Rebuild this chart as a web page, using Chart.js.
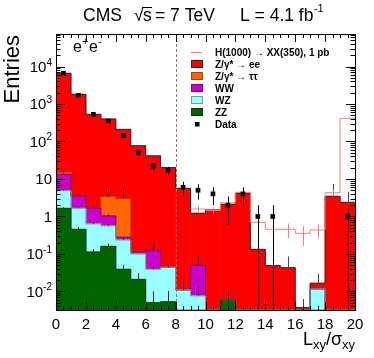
<!DOCTYPE html>
<html>
<head>
<meta charset="utf-8">
<script src="https://cdn.jsdelivr.net/npm/chart.js@4.4.0/dist/chart.umd.min.js"></script>
<style>
  html, body { margin: 0; padding: 0; background: #fff; }
</style>
</head>
<body>
<canvas id="chart" width="374" height="358"></canvas>
<script>
// bin centres of the Lxy/sigma histogram (bins of width 1)
const binCenters = [0.5, 1.5, 2.5, 3.5, 4.5, 5.5, 6.5, 7.5, 8.5, 9.5, 10.5, 11.5, 12.5, 13.5, 14.5, 15.5, 16.5, 17.5, 18.5, 19.5];
const binEdges = [0, 1, 2, 3, 4, 5, 6, 7, 8, 9, 10, 11, 12, 13, 14, 15, 16, 17, 18, 19, 20];

// stacked backgrounds, bottom to top
const zz      = [1.65, 0.455, 0.113, 0.16, 0.039, 0.021, 0.005, 0.0053, 0, 0, 0, 0.0059, 0, 0, 0, 0, 0, 0, 0, 0];
const wz      = [3.25, 1.2, 0.52, 0.40, 0.197, 0.079, 0.034, 0.039, 0.011, 0.0076, 0, 0, 0, 0, 0, 0, 0, 0.0117, 0, 0];
const ww      = [8.4, 1.85, 1.02, 0.47, 0.044, 0.013, 0.083, 0, 0, 0.042, 0, 0, 0, 0, 0, 0, 0, 0, 0, 0];
const ztautau = [1.8, 0, 0, 2.34, 2.7, 0, 0, 0, 0, 0, 0, 0, 0, 0, 0, 0, 0, 0, 0, 0];
const zee     = [6575, 1811, 529, 395, 208, 77, 41, 20, 5.64, 1.17, 1.49, 2.11, 4.16, 0.133, 0.049, 0.043, 0.0037, 0.0049, 3.46, 2.39];

// upward MC stat error ticks on each stack level
const zzErr      = [0.1, 0.06, 0.02, 0.03, 0.012, 0.0095, 0.005, 0.005, 0, 0, 0, 0.0056, 0, 0, 0, 0, 0, 0, 0, 0];
const wzErr      = [0.3, 0.15, 0.05, 0.05, 0.03, 0, 0.01, 0.01, 0.01, 0.007, 0, 0, 0, 0, 0, 0, 0, 0, 0, 0];
const wwErr      = [1, 0.4, 0.2, 0.1, 0, 0, 0.09, 0, 0, 0.04, 0, 0, 0, 0, 0, 0, 0, 0, 0, 0];
const ztautauErr = [0.8, 0, 0, 2.4, 2.66, 0, 0, 0, 0, 0, 0, 0, 0, 0, 0, 0, 0, 0, 0, 0];
const totalErr   = [0, 0, 0, 0, 0, 0, 0, 0, 0, 0, 0, 0, 0, 0, 0, 0.042, 0.0026, 0.013, 3.9, 2.2];

// signal H(1000) -> XX(350)
const signal    = [null, null, null, null, null, null, null, null, null, 1.58, 1.45, 2.3, 4.4, 0.7, 0.456, 0.456, 0.356, 0.437, 4.3, 415];
const signalErr = [null, null, null, null, null, null, null, null, null, 0.3, 0.3, 0.35, 0.5, 0.2, 0.19, 0.19, 0.19, 0.18, 0.8, 12];

// data
const dataCounts = [6600, 1700, 530, 350, 143, 50, 22, 17, 6, 5, 4, 2, 4, 1, 1, null, null, null, null, 1];
const dataErr    = [81, 41, 23, 19, 12, 7.1, 4.7, 4.1, 2.4, 2.2, 2, 1.4, 2, 1, 1, null, null, null, null, 1];

// axis ticks
const xTickValues = [0, 2, 4, 6, 8, 10, 12, 14, 16, 18, 20];
const yTickValues = [0.01, 0.1, 1, 10, 100, 1000, 10000];
const yTickBase   = ['10', '10', '1', '10', '10', '10', '10'];
const yTickExp    = ['-2', '-1', '', '', '2', '3', '4'];

const legendLabels = ['H(1000) \u2192 XX(350), 1 pb', 'Z/\u03b3* \u2192 ee', 'Z/\u03b3* \u2192 \u03c4\u03c4', 'WW', 'WZ', 'ZZ', 'Data'];

const Y_MIN = 0.0032;
const Y_MAX = 73600;
const CUT_X = 8;

const FONT = '"Liberation Sans", Arial, Helvetica, sans-serif';
const colors = {
  zee: '#ff0000', ztautau: '#ff6600', ww: '#cc00cc', wz: '#99ffff', zz: '#006400', signal: '#ff7777'
};
const edges = {
  zee: '#2a2a2a', ztautau: '#9a4a10', ww: '#7a0a70', wz: '#6aa0a0', zz: '#1a331a'
};

// cumulative stack levels
const comps = [zz, wz, ww, ztautau, zee];
const levels = [];
let run = binCenters.map(() => 0);
comps.forEach(c => {
  run = run.map((v, i) => v + c[i]);
  levels.push(run.slice());
});

function barSet(label, values, color) {
  return {
    type: 'bar',
    label: label,
    data: values.map((v, i) => ({ x: binCenters[i], y: v })),
    backgroundColor: color,
    borderWidth: 0,
    barPercentage: 1,
    categoryPercentage: 1,
    stack: 'mc',
    order: 10
  };
}

function stepSet(values, color, order) {
  const pts = [];
  values.forEach((v, i) => {
    pts.push({ x: binEdges[i], y: v === null ? null : (v > 0 ? v : Y_MIN / 10) });
  });
  const last = values[values.length - 1];
  pts.push({ x: binEdges[binEdges.length - 1], y: last > 0 ? last : Y_MIN / 10 });
  return {
    type: 'line',
    data: pts,
    stepped: true,
    borderColor: color,
    borderWidth: 1,
    pointRadius: 0,
    fill: false,
    order: order
  };
}

function drawErrors(ctx, x, y, tops, errs, color, bothWays) {
  ctx.strokeStyle = color;
  ctx.lineWidth = 1;
  tops.forEach((t, i) => {
    const e = errs[i];
    if (t === null || !e) return;
    const px = Math.round(x.getPixelForValue(binCenters[i])) + 0.5;
    const hi = y.getPixelForValue(t + e);
    const lo = bothWays ? (t - e > Y_MIN ? y.getPixelForValue(t - e) : y.bottom) : y.getPixelForValue(t);
    ctx.beginPath();
    ctx.moveTo(px, hi);
    ctx.lineTo(px, lo);
    ctx.stroke();
  });
}

const decorations = {
  id: 'decorations',
  afterDatasetsDraw(chart) {
    const ctx = chart.ctx;
    const x = chart.scales.x;
    const y = chart.scales.y;
    const a = chart.chartArea;

    ctx.save();
    ctx.beginPath();
    ctx.rect(a.left, a.top, a.right - a.left, a.bottom - a.top);
    ctx.clip();

    // MC stat errors
    drawErrors(ctx, x, y, levels[0], zzErr, '#222', false);
    drawErrors(ctx, x, y, levels[1], wzErr, '#333', false);
    drawErrors(ctx, x, y, levels[2], wwErr, '#222', false);
    drawErrors(ctx, x, y, levels[3], ztautauErr, '#222', false);
    drawErrors(ctx, x, y, levels[4], totalErr, '#444', false);
    // signal errors
    drawErrors(ctx, x, y, signal, signalErr, colors.signal, true);
    // data errors
    drawErrors(ctx, x, y, dataCounts, dataErr, '#000', true);

    // cut line
    const cx = Math.round(x.getPixelForValue(CUT_X)) + 0.5;
    ctx.strokeStyle = '#a07068';
    ctx.setLineDash([3, 2]);
    ctx.beginPath();
    ctx.moveTo(cx, a.top);
    ctx.lineTo(cx, a.bottom);
    ctx.stroke();
    ctx.setLineDash([]);
    ctx.restore();

    // ticks inside the frame
    ctx.save();
    ctx.strokeStyle = '#000';
    ctx.lineWidth = 1;
    ctx.beginPath();
    for (let v = 0; v <= 20.001; v += 0.5) {
      const px = Math.round(x.getPixelForValue(v)) + 0.5;
      const len = Math.abs(v % 2) < 0.01 ? 8 : 4;
      ctx.moveTo(px, a.bottom);
      ctx.lineTo(px, a.bottom - len);
      ctx.moveTo(px, a.top);
      ctx.lineTo(px, a.top + len);
    }
    for (let d = -3; d <= 4; d++) {
      for (let k = 1; k <= 9; k++) {
        const v = k * Math.pow(10, d);
        if (v < Y_MIN || v > Y_MAX) continue;
        const py = Math.round(y.getPixelForValue(v)) + 0.5;
        const len = k === 1 ? 9 : 4.5;
        ctx.moveTo(a.left, py);
        ctx.lineTo(a.left + len, py);
        ctx.moveTo(a.right, py);
        ctx.lineTo(a.right - len, py);
      }
    }
    ctx.stroke();

    // frame
    ctx.strokeRect(Math.round(a.left) + 0.5, Math.round(a.top) + 0.5,
      Math.round(a.right - a.left), Math.round(a.bottom - a.top));

    // tick labels
    ctx.fillStyle = '#000';
    ctx.font = '15px ' + FONT;
    ctx.textAlign = 'center';
    ctx.textBaseline = 'alphabetic';
    xTickValues.forEach(v => {
      ctx.fillText(String(v), x.getPixelForValue(v), 329);
    });
    yTickValues.forEach((v, i) => {
      const py = y.getPixelForValue(v);
      const right = 52;
      ctx.font = '10px ' + FONT;
      const ew = yTickExp[i] ? ctx.measureText(yTickExp[i]).width : 0;
      ctx.textAlign = 'right';
      if (yTickExp[i]) ctx.fillText(yTickExp[i], right, py - 1);
      ctx.font = '15px ' + FONT;
      ctx.fillText(yTickBase[i], right - ew, py + 5.5);
    });

    // axis titles
    ctx.save();
    ctx.font = '22px ' + FONT;
    ctx.translate(19, 35);
    ctx.rotate(-Math.PI / 2);
    ctx.textAlign = 'right';
    ctx.fillText('Entries', 0, 0);
    ctx.restore();

    const parts = [['L', 18, 0], ['xy', 13, 4], ['/', 18, 0], ['\u03c3', 18, 0], ['xy', 13, 4]];
    let total = 0;
    parts.forEach(p => { ctx.font = p[1] + 'px ' + FONT; total += ctx.measureText(p[0]).width; });
    let tx = a.right - total;
    ctx.textAlign = 'left';
    parts.forEach(p => {
      ctx.font = p[1] + 'px ' + FONT;
      ctx.fillText(p[0], tx, 345 + p[2]);
      tx += ctx.measureText(p[0]).width;
    });

    // title
    ctx.font = '17.5px ' + FONT;
    ctx.fillText('CMS', 83, 21);
    ctx.fillText('\u221a', 134, 21);
    ctx.fillText('s', 143, 21);
    ctx.fillText('= 7 TeV', 155, 21);
    ctx.fillText('L = 4.1 fb', 240, 21);
    const fbEnd = 240 + ctx.measureText('L = 4.1 fb').width;
    ctx.beginPath();
    ctx.moveTo(142, 7.5);
    ctx.lineTo(152, 7.5);
    ctx.stroke();
    ctx.font = '11px ' + FONT;
    ctx.fillText('-1', fbEnd + 0.5, 12);

    // channel label
    ctx.font = '16px ' + FONT;
    ctx.fillText('e', 73, 52);
    ctx.font = '11px ' + FONT;
    ctx.fillText('+', 82, 45);
    ctx.font = '16px ' + FONT;
    ctx.fillText('e', 89, 52);
    ctx.font = '11px ' + FONT;
    ctx.fillText('-', 98, 45);

    // legend
    const rowY = [52, 64, 76, 88, 100, 112, 124];
    const fills = [null, colors.zee, colors.ztautau, colors.ww, colors.wz, colors.zz, null];
    const outs = [null, edges.zee, edges.ztautau, edges.ww, edges.wz, edges.zz, null];
    ctx.font = 'bold 10px ' + FONT;
    legendLabels.forEach((lab, i) => {
      const cy = rowY[i];
      if (i === 0) {
        ctx.strokeStyle = colors.signal;
        ctx.beginPath();
        ctx.moveTo(191, cy + 0.5);
        ctx.lineTo(202, cy + 0.5);
        ctx.stroke();
      } else if (i === legendLabels.length - 1) {
        ctx.fillStyle = '#000';
        ctx.fillRect(195, cy - 2, 4.5, 4.5);
      } else {
        ctx.fillStyle = fills[i];
        ctx.fillRect(191, cy - 4, 11, 8);
        ctx.strokeStyle = outs[i];
        ctx.strokeRect(191.5, cy - 3.5, 11, 7);
      }
      ctx.fillStyle = '#000';
      ctx.fillText(lab, 215, cy + 3.5);
    });
    ctx.restore();
  }
};

new Chart(document.getElementById('chart'), {
  type: 'bar',
  data: {
    datasets: [
      barSet('ZZ', zz, colors.zz),
      barSet('WZ', wz, colors.wz),
      barSet('WW', ww, colors.ww),
      barSet('Z/\u03b3* \u2192 \u03c4\u03c4', ztautau, colors.ztautau),
      barSet('Z/\u03b3* \u2192 ee', zee, colors.zee),
      stepSet(levels[4], edges.zee, 6),
      stepSet(levels[3], edges.ztautau, 5),
      stepSet(levels[2], edges.ww, 4),
      stepSet(levels[1], edges.wz, 3),
      stepSet(levels[0], edges.zz, 2),
      stepSet(signal, colors.signal, 1),
      {
        type: 'line',
        label: 'Data',
        data: dataCounts.map((v, i) => ({ x: binCenters[i], y: v })),
        showLine: false,
        pointStyle: 'rect',
        pointRadius: 3.3,
        pointBackgroundColor: '#000',
        pointBorderWidth: 0,
        order: 0
      }
    ]
  },
  options: {
    responsive: false,
    animation: false,
    layout: { padding: { left: 56, right: 19, top: 34, bottom: 48 } },
    plugins: { legend: { display: false }, tooltip: { enabled: false } },
    scales: {
      x: { type: 'linear', min: 0, max: 20, offset: false, display: false },
      y: { type: 'logarithmic', min: Y_MIN, max: Y_MAX, display: false }
    }
  },
  plugins: [decorations]
});
</script>
</body>
</html>
